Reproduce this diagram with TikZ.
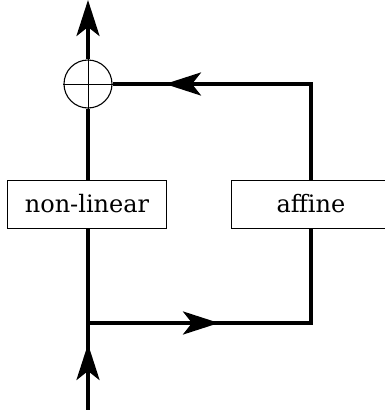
\documentclass[tikz,border=0pt]{standalone}
\usepackage{fontspec}
\setmainfont{DejaVu Serif}
\usetikzlibrary{arrows.meta}
\begin{document}
\begin{tikzpicture}[x=1pt,y=-1pt,
  flow/.style={line width=4pt},
  tip/.style={-{Stealth[length=36pt,width=23pt,inset=9pt]}},
  blk/.style={draw,line width=0.9pt,inner sep=0pt,minimum width=159pt,minimum height=48pt,font=\fontsize{24}{28}\selectfont}]
\useasboundingbox (0,0) rectangle (385,410);
\clip (0,0) rectangle (385,410);
\node[blk] (nl) at (87,204) {non-linear};
\node[blk] (af) at (311,204) {affine};
\node[draw,circle,line width=1.1pt,minimum size=48pt,inner sep=0pt] (sum) at (88,84) {};
\draw[line width=0.9pt] (sum.north) -- (sum.south) (sum.west) -- (sum.east);
\coordinate (out) at (88,0);
\coordinate (in) at (88,410);
\coordinate (j) at (88,323);
\coordinate (cb) at (311,323);
\coordinate (ct) at (311,84);
\coordinate (t1) at (88,344);
\coordinate (t2) at (219,323);
\coordinate (t3) at (165,84);
\draw[flow,tip] (sum.north) -- (out);
\draw[flow] (sum.south) -- (sum.south|-nl.north);
\draw[flow] (sum.south|-nl.south) -- (in);
\draw[flow,tip] (in) -- (t1);
\draw[flow,line join=miter] (j) -- (cb) -- (cb|-af.south);
\draw[flow,tip] (j) -- (t2);
\draw[flow,line join=miter] (ct|-af.north) -- (ct) -- (sum.east);
\draw[flow,tip] (ct) -- (t3);
\end{tikzpicture}
\end{document}
